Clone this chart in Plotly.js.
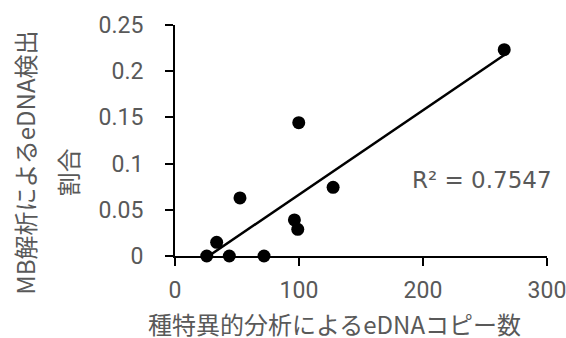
<!DOCTYPE html>
<html>
<head>
<meta charset="utf-8">
<script src="https://cdn.plot.ly/plotly-3.0.1.min.js"></script>
<style>html,body{margin:0;padding:0;background:#fff;}#chart{width:566px;height:338px;}</style>
</head>
<body>
<div id="chart"></div>
<script>
// Data
const copyNumbers = [25.6, 33.6, 43.8, 52.4, 71.8, 99.8, 96.3, 99.0, 127.5, 265.5];
const detectionRatio = [0, 0.0148, 0, 0.0628, 0, 0.1443, 0.039, 0.0289, 0.0743, 0.2233];
const xTickVals = [0, 100, 200, 300];
const yTickVals = [0, 0.05, 0.1, 0.15, 0.2, 0.25];
const yTickText = ['0', '0.05', '0.1', '0.15', '0.2', '0.25'];
const rSquaredText = 'R² = 0.7547';
const xTitle = '種特異的分析によるeDNAコピー数';
const yTitleLine1 = 'MB解析によるeDNA検出';
const yTitleLine2 = '割合';

// Linear least-squares trendline from the data
const n = copyNumbers.length;
const mx = copyNumbers.reduce((a, b) => a + b, 0) / n;
const my = detectionRatio.reduce((a, b) => a + b, 0) / n;
let sxy = 0, sxx = 0;
for (let i = 0; i < n; i++) {
  sxy += (copyNumbers[i] - mx) * (detectionRatio[i] - my);
  sxx += (copyNumbers[i] - mx) ** 2;
}
const slope = sxy / sxx;
const intercept = my - slope * mx;
const xMin = Math.min(...copyNumbers), xMax = Math.max(...copyNumbers);
const trendX = [xMin, xMax];
const trendY = trendX.map(x => intercept + slope * x);

const tickFont = {family: 'Roboto, "Noto Sans CJK JP", sans-serif', size: 23, color: '#595959'};
const titleFont = {family: '"Noto Sans CJK JP", sans-serif', size: 24, color: '#595959'};

const data = [
  {x: trendX, y: trendY, mode: 'lines', type: 'scatter',
   line: {color: '#000000', width: 2.5}, hoverinfo: 'skip', cliponaxis: true},
  {x: copyNumbers, y: detectionRatio, mode: 'markers', type: 'scatter',
   marker: {color: '#000000', size: 13}, cliponaxis: false}
];

const layout = {
  width: 566, height: 338,
  margin: {l: 175, r: 19, t: 25, b: 82, pad: 0},
  paper_bgcolor: '#ffffff', plot_bgcolor: '#ffffff',
  showlegend: false,
  xaxis: {
    range: [0, 300], tickvals: xTickVals, ticktext: xTickVals.map(String),
    showgrid: false, zeroline: false, showline: true, linecolor: '#000000', linewidth: 2,
    ticks: 'outside', ticklen: 8, tickwidth: 2, tickcolor: '#000000',
    tickfont: tickFont, ticklabelstandoff: 4, ticklabeloverflow: 'allow'
  },
  yaxis: {
    range: [0, 0.25], tickvals: yTickVals, ticktext: yTickText,
    showgrid: false, zeroline: false, showline: true, linecolor: '#000000', linewidth: 2,
    ticks: 'outside', ticklen: 8, tickwidth: 2, tickcolor: '#000000',
    tickfont: tickFont, ticklabelstandoff: 17, ticklabeloverflow: 'allow'
  },
  annotations: [
    {text: rSquaredText, xref: 'paper', yref: 'paper', x: 0.632, y: 0.328,
     xanchor: 'left', yanchor: 'middle', showarrow: false,
     font: {family: '"DejaVu Sans", sans-serif', size: 23, color: '#595959'}},
    {text: xTitle, xref: 'paper', yref: 'paper', x: 0.43, y: -0.292,
     xanchor: 'center', yanchor: 'middle', showarrow: false, font: titleFont},
    {text: yTitleLine1, xref: 'paper', yref: 'paper', x: -0.405, y: 0.405,
     xanchor: 'center', yanchor: 'middle', showarrow: false, textangle: -90, font: titleFont},
    {text: yTitleLine2, xref: 'paper', yref: 'paper', x: -0.29, y: 0.363,
     xanchor: 'center', yanchor: 'middle', showarrow: false, textangle: -90, font: titleFont}
  ]
};

Plotly.newPlot('chart', data, layout, {displayModeBar: false, staticPlot: true});
</script>
</body>
</html>
